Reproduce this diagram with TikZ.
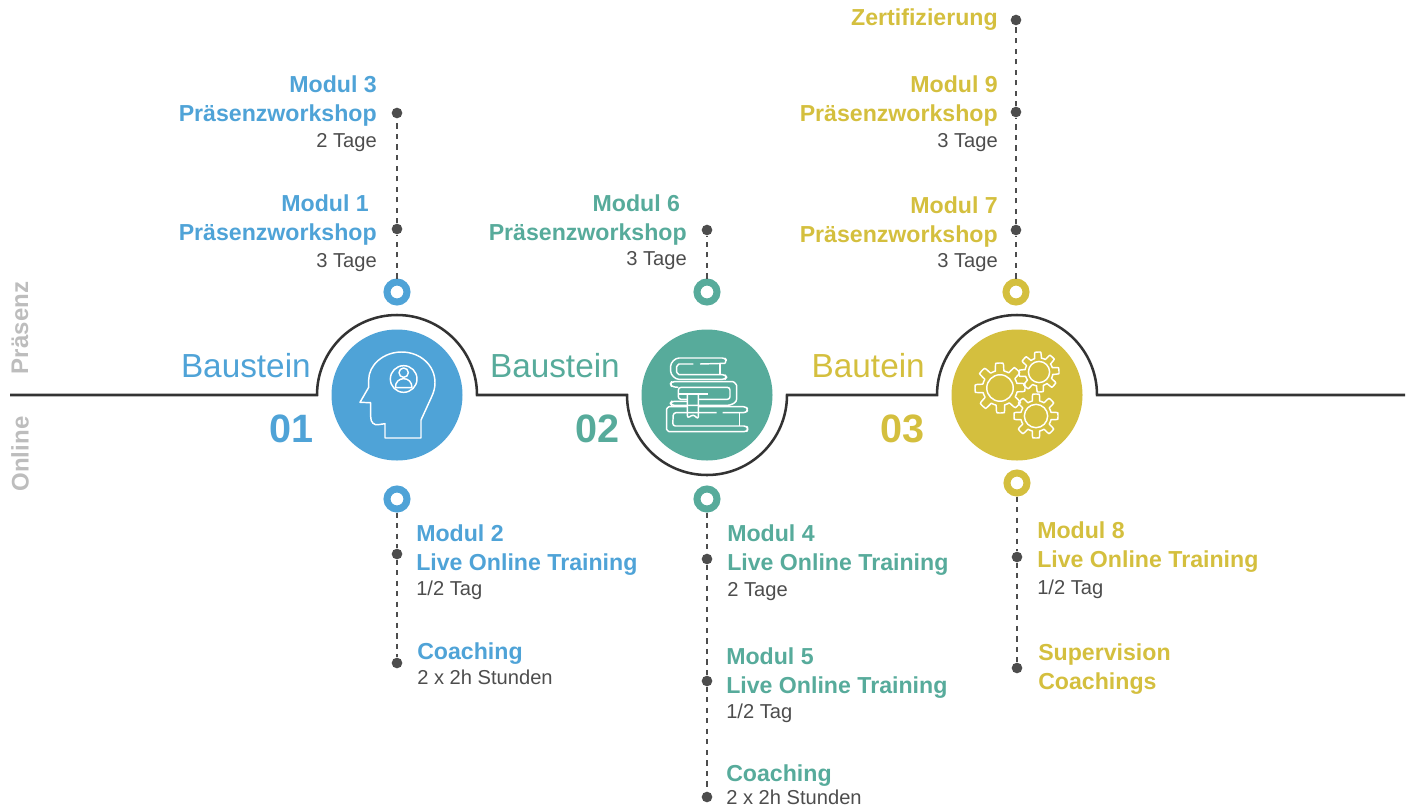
\documentclass[tikz,border=0pt]{standalone}
\usepackage{fontspec}
\setmainfont{Liberation Sans}
\usepackage{tikz}
\definecolor{bblue}{HTML}{4FA3D7}
\definecolor{bgreen}{HTML}{57AB9B}
\definecolor{byellow}{HTML}{D4BF3E}
\definecolor{dotgray}{HTML}{4D4D4D}
\definecolor{linegray}{HTML}{333333}
\definecolor{sidegray}{HTML}{BDBDBD}
\newcommand{\detfont}{\fontsize{15.1}{19.5}\selectfont\mdseries\color{dotgray}}
\tikzstyle{hub}=[circle,minimum size=98.25pt,inner sep=0pt]
\tikzstyle{ring}=[circle,minimum size=15pt,inner sep=0pt,line width=5.25pt,fill=white]
\tikzstyle{dot}=[circle,minimum size=8pt,inner sep=0pt,fill=dotgray]
\tikzstyle{stem}=[dotgray,line width=1.6pt,dash pattern=on 3.9pt off 4pt]
\tikzstyle{base}=[linegray,line width=1.9pt]
\tikzstyle{modleft}=[anchor=north east,align=right,inner sep=0pt,font=\fontsize{17.35}{21.75}\selectfont\bfseries]
\tikzstyle{modright}=[anchor=north west,align=left,inner sep=0pt,font=\fontsize{17.35}{21.75}\selectfont\bfseries]
\tikzstyle{title}=[anchor=east,inner sep=0pt,font=\fontsize{25}{30}\selectfont]
\tikzstyle{number}=[anchor=east,inner sep=0pt,font=\fontsize{29.7}{34}\selectfont\bfseries]
\tikzstyle{side}=[rotate=90,inner sep=0pt,text=sidegray,font=\fontsize{18}{22}\selectfont\bfseries]
\tikzstyle{icon}=[white,line width=1.1pt,line join=round]
\newcommand{\gearicon}[4]{
    \draw [icon,shift={(#1,#2)}] plot[variable=\t,domain=0:360,samples=217]
        (\t:{#3*(.85+.15*max(-1,min(1,3*cos(8*\t+#4))))}) -- cycle;
    \draw [icon] (#1,#2) circle ({#3*.53});
}

\begin{document}
\begin{tikzpicture}[x=.75pt,y=-.75pt]
    \useasboundingbox (0,0) rectangle (1410,807);

    \node (c1) [hub,fill=bblue] at (397,395) {};
    \node (c2) [hub,fill=bgreen] at (707,395) {};
    \node (c3) [hub,fill=byellow] at (1017,395) {};

    \coordinate (left) at (10,395);
    \coordinate (right) at (1405,395);
    \draw [base] (left) -- (317,395) arc[start angle=180,end angle=360,radius=80]
        -- (627,395) arc[start angle=180,end angle=0,radius=80]
        -- (937,395) arc[start angle=180,end angle=360,radius=80] -- (right);

    \node (r1a) [ring,draw=bblue,node distance=77.25pt,above of=c1] {};
    \node (d1a) [dot,node distance=47.25pt,above of=r1a] {};
    \node (d1b) [dot,node distance=87pt,above of=d1a] {};
    \node (r1b) [ring,draw=bblue,node distance=78pt,below of=c1] {};
    \node (d1c) [dot,node distance=41.25pt,below of=r1b] {};
    \node (d1d) [dot,node distance=81.75pt,below of=d1c] {};

    \node (r2a) [ring,draw=bgreen,node distance=77.25pt,above of=c2] {};
    \node (d2a) [dot,node distance=46.5pt,above of=r2a] {};
    \node (r2b) [ring,draw=bgreen,node distance=78pt,below of=c2] {};
    \node (d2b) [dot,node distance=45pt,below of=r2b] {};
    \node (d2c) [dot,node distance=91.5pt,below of=d2b] {};
    \node (d2d) [dot,node distance=87pt,below of=d2c] {};

    \node (r3a) [ring,draw=byellow,node distance=77.25pt,above of=c3,xshift=-.75pt] {};
    \node (d3a) [dot,node distance=46.5pt,above of=r3a] {};
    \node (d3b) [dot,node distance=88.5pt,above of=d3a] {};
    \node (d3c) [dot,node distance=69pt,above of=d3b] {};
    \node (r3b) [ring,draw=byellow,node distance=66pt,below of=c3] {};
    \node (d3d) [dot,node distance=55.5pt,below of=r3b] {};
    \node (d3e) [dot,node distance=83.25pt,below of=d3d] {};

    \draw [stem] (r1a) -- (d1a);
    \draw [stem] (d1a) -- (d1b);
    \draw [stem] (r1b) -- (d1c);
    \draw [stem] (d1c) -- (d1d);
    \draw [stem] (r2a) -- (d2a);
    \draw [stem] (r2b) -- (d2b);
    \draw [stem] (d2b) -- (d2c);
    \draw [stem] (d2c) -- (d2d);
    \draw [stem] (r3a) -- (d3a);
    \draw [stem] (d3a) -- (d3b);
    \draw [stem] (d3b) -- (d3c);
    \draw [stem] (r3b) -- (d3d);
    \draw [stem] (d3d) -- (d3e);

    \node (t1) [title,text=bblue] at (311,366) {Baustein};
    \node (t2) [title,text=bgreen] at (620,366) {Baustein};
    \node (t3) [title,text=byellow] at (925,366) {Bautein};
    \node (n1) [number,text=bblue] at (314,429) {01};
    \node (n2) [number,text=bgreen] at (620,429) {02};
    \node (n3) [number,text=byellow] at (925,429) {03};
    \node (praesenz) [side] at (20,328) {Präsenz};
    \node (online) [side] at (20,454) {Online};

    \node (m3) [modleft,text=bblue] at (377,75) {Modul 3\\Präsenzworkshop\\[-2.25pt]{\detfont 2 Tage}};
    \node (m1) [modleft,text=bblue] at (377,194) {Modul 1\hspace*{6pt}\\Präsenzworkshop\\[-1pt]{\detfont 3 Tage}};
    \node (m6) [modleft,text=bgreen] at (687,194) {Modul 6\hspace*{5pt}\\Präsenzworkshop\\[-2.5pt]{\detfont 3 Tage}};
    \node (zert) [modleft,text=byellow] at (998,8) {Zertifizierung};
    \node (m9) [modleft,text=byellow] at (998,75) {Modul 9\\Präsenzworkshop\\[-2pt]{\detfont 3 Tage}};
    \node (m7) [modleft,text=byellow] at (998,196) {Modul 7\\Präsenzworkshop\\[-2.5pt]{\detfont 3 Tage}};

    \node (m2) [modright,text=bblue] at (416,524) {Modul 2\\Live Online Training\\[-2.5pt]{\detfont 1/2 Tag}};
    \node (co1) [modright,text=bblue] at (417,642) {Coaching\\[-3pt]{\detfont 2 x 2h Stunden}};
    \node (m4) [modright,text=bgreen] at (727,524) {Modul 4\\Live Online Training\\[-2.25pt]{\detfont 2 Tage}};
    \node (m5) [modright,text=bgreen] at (726,647) {Modul 5\\Live Online Training\\[-2.5pt]{\detfont 1/2 Tag}};
    \node (co2) [modright,text=bgreen] at (726,764) {Coaching\\[-4pt]{\detfont 2 x 2h Stunden}};
    \node (m8) [modright,text=byellow] at (1037,521) {Modul 8\\Live Online Training\\[-1pt]{\detfont 1/2 Tag}};
    \node (sup) [modright,text=byellow] at (1038,643) {Supervision\\Coachings};

    \begin{scope}[shift={(300,280)},x=.25pt,y=-.25pt]
        \draw [icon] (255,474) -- (363,474) -- (363,420) -- (395,350) .. controls (402,335) and (405,322) .. (405,308)
            .. controls (405,255) and (360,216) .. (305,216) .. controls (250,216) and (206,255) .. (206,300)
            -- (206,322) -- (180,367) -- (212,368) -- (212,410) .. controls (212,428) and (222,436) .. (235,434)
            -- (255,431) -- cycle;
        \draw [icon] (311,297) circle (40);
        \draw [icon] (311,278) circle (14);
        \draw [icon] (286,323) .. controls (286,305) and (298,296) .. (311,296) .. controls (324,296) and (336,305) .. (336,323) -- cycle;
    \end{scope}

    \begin{scope}[shift={(610,280)},x=.25pt,y=-.25pt,rounded corners=2pt]
        \draw [icon] (345,250) -- (350,242) -- (345,234) -- (215,234) .. controls (195,234) and (182,248) .. (182,266)
            .. controls (182,284) and (195,298) .. (215,298) -- (345,298) -- (350,292) -- (345,284) -- (215,284)
            .. controls (205,284) and (200,276) .. (200,268) .. controls (200,260) and (205,252) .. (215,252) -- (250,252);
        \draw [icon] (270,252) -- (345,250);
        \draw [icon] (330,252) -- (330,284);
        \draw [icon] (205,322) -- (185,320) -- (181,312) -- (185,305) -- (360,305) .. controls (372,305) and (380,314) .. (380,325)
            -- (380,365) -- (360,376) -- (185,376) -- (181,370) -- (185,364) -- (232,364);
        \draw [icon] (265,358) -- (360,358) -- (360,322) -- (205,322) -- (205,358) -- (232,358);
        \draw [icon] (205,342) -- (295,342);
        \draw [icon] (232,342) -- (232,415) -- (250,403) -- (265,418) -- (265,342);
        \draw [icon] (320,398) -- (190,398) -- (188,438) -- (410,438) -- (414,447) -- (410,455) -- (185,455)
            .. controls (175,455) and (170,448) .. (170,440) -- (170,395) .. controls (170,386) and (175,380) .. (185,380)
            -- (232,380);
        \draw [icon] (265,380) -- (408,380) -- (414,389) -- (408,398) -- (338,398);
        \draw [icon] (388,398) -- (388,438);
    \end{scope}

    \gearicon{1000}{388}{25}{10}
    \gearicon{1039}{372}{20}{30}
    \gearicon{1036}{416}{22}{0}
\end{tikzpicture}
\end{document}
